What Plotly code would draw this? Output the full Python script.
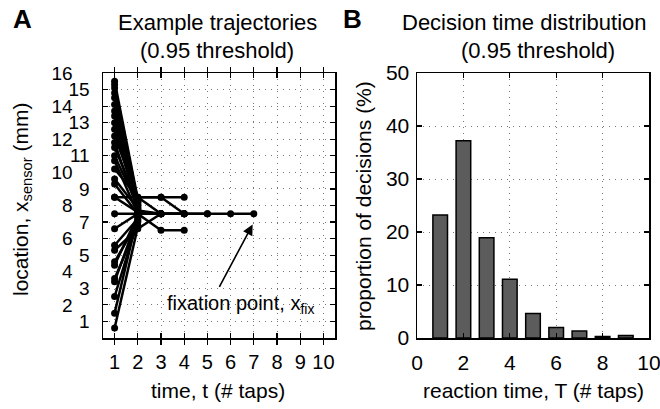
import plotly.graph_objects as go

W, H = 660, 409

# ---------------- data ----------------
# Panel A: example sensor trajectories (location in mm at successive taps t = 1, 2, ...)
trajectories = [
    [15.5, 8.4],
    [15.3, 8.2],
    [15.1, 8.0],
    [14.8, 8.3],
    [14.5, 7.8],
    [14.1, 8.4],
    [13.7, 8.1],
    [13.4, 7.6, 7.5],
    [13.0, 8.3],
    [12.6, 7.9],
    [12.2, 8.5, 8.5, 8.5],
    [11.8, 7.7, 7.5],
    [11.5, 8.2],
    [11.0, 8.0],
    [10.7, 7.5, 7.5, 7.5],
    [10.2, 8.5, 8.5, 7.5],
    [9.6, 7.8],
    [9.3, 7.5, 6.5, 6.5],
    [8.5, 8.5, 7.5, 7.5],
    [8.5, 7.6],
    [7.5, 7.5, 7.5, 7.5, 7.5, 7.5, 7.5],
    [6.6, 7.5, 7.5],
    [5.6, 7.2],
    [5.3, 6.6, 7.5, 7.5, 7.5],
    [4.6, 7.0],
    [4.4, 7.4],
    [3.6, 6.8],
    [3.4, 7.3],
    [2.5, 7.1],
    [1.5, 7.4],
    [0.6, 6.7],
]
a_xticks = list(range(1, 11))
a_yticks_odd = list(range(1, 16, 2))
a_yticks_even = list(range(2, 17, 2))

# Panel B: decision time distribution
reaction_T = [1, 2, 3, 4, 5, 6, 7, 8, 9]
proportion_pct = [23.2, 37.2, 18.9, 11.1, 4.6, 2.0, 1.3, 0.3, 0.45]
b_xticks = [0, 2, 4, 6, 8, 10]
b_yticks = [0, 10, 20, 30, 40, 50]

# ---------------- figure ----------------
FONT = "Liberation Sans, Arial, Helvetica, sans-serif"
fig = go.Figure()

for tr in trajectories:
    fig.add_trace(go.Scatter(
        x=list(range(1, len(tr) + 1)), y=tr, mode="lines+markers",
        line=dict(color="black", width=2.5),
        marker=dict(color="black", size=7),
        xaxis="x", yaxis="y", showlegend=False, hoverinfo="skip"))

fig.add_trace(go.Bar(
    x=reaction_T, y=proportion_pct, width=0.63,
    marker=dict(color="#5c5c5c", line=dict(color="black", width=1.5)),
    xaxis="x2", yaxis="y2", showlegend=False))

# dummy trace so the even-label overlay axis renders
fig.add_trace(go.Scatter(x=[None], y=[None], xaxis="x", yaxis="y3",
                         showlegend=False, hoverinfo="skip"))


def px(xp):
    return xp / W


def py(yp):
    return 1 - yp / H


grid = dict(showgrid=True, gridcolor="#777777", gridwidth=1, griddash="1px,5px",
            zeroline=False, showline=True, linecolor="black", linewidth=1.5,
            mirror="allticks", ticks="inside", ticklen=5, tickcolor="black",
            tickwidth=1.2, tickangle=0, automargin=False,
            ticklabeloverflow="allow")

fig.update_layout(
    template="none",
    width=W, height=H,
    margin=dict(l=0, r=0, t=0, b=0, autoexpand=False),
    paper_bgcolor="white", plot_bgcolor="white",
    font=dict(family=FONT, color="black"),
    bargap=0,
    xaxis=dict(domain=[px(103), px(335)], range=[0.5, 10.5], anchor="y",
               tickvals=a_xticks, tickfont=dict(size=20), ticklabelstandoff=5,
               **grid),
    yaxis=dict(domain=[py(338), py(73)], range=[0, 16], anchor="x",
               tickvals=a_yticks_odd, tickfont=dict(size=19),
               ticklabelstandoff=8, **grid),
    yaxis3=dict(overlaying="y", anchor="x", side="left", range=[0, 16],
                tickvals=a_yticks_even, tickfont=dict(size=19),
                ticklabelstandoff=25, **grid),
    xaxis2=dict(domain=[px(417), px(649)], range=[0, 10], anchor="y2",
                tickvals=b_xticks, tickfont=dict(size=21), ticklabelstandoff=5,
                **grid),
    yaxis2=dict(domain=[py(338), py(73)], range=[0, 50], anchor="x2",
                tickvals=b_yticks, tickfont=dict(size=21), ticklabelstandoff=2,
                **grid),
)

ann = []


def text(x, y, s, size, bold=False, angle=0):
    ann.append(dict(x=px(x), y=py(y), xref="paper", yref="paper",
                    text=f"<b>{s}</b>" if bold else s, showarrow=False,
                    xanchor="center", yanchor="middle", textangle=angle,
                    font=dict(size=size, family=FONT, color="black")))


text(22, 19, "A", 26, bold=True)
text(353, 19, "B", 26, bold=True)
text(217, 23, "Example trajectories", 22)
text(217, 50, "(0.95 threshold)", 22)
text(524, 23, "Decision time distribution", 22)
text(538, 50, "(0.95 threshold)", 22)
text(218, 390, "time, t (# taps)", 21)
text(533, 390, "reaction time, T (# taps)", 21)
text(22, 200, "location, x<sub>sensor</sub> (mm)", 21, angle=-90)
text(363, 206, "proportion of decisions (%)", 21, angle=-90)
text(240, 304, "fixation point, x<sub>fix</sub>", 20)

# arrow pointing at the fixation point
ann.append(dict(x=6.95, y=6.85, xref="x", yref="y", ax=5.48, ay=3.0,
                axref="x", ayref="y", text="", showarrow=True,
                arrowhead=2, arrowsize=1.3, arrowwidth=1.6, arrowcolor="black"))

fig.update_layout(annotations=ann)
fig.write_html("out.html",
               config={"displayModeBar": False, "staticPlot": True},
               post_script="document.body.style.margin='0';"
                           "document.body.style.overflow='hidden';")
